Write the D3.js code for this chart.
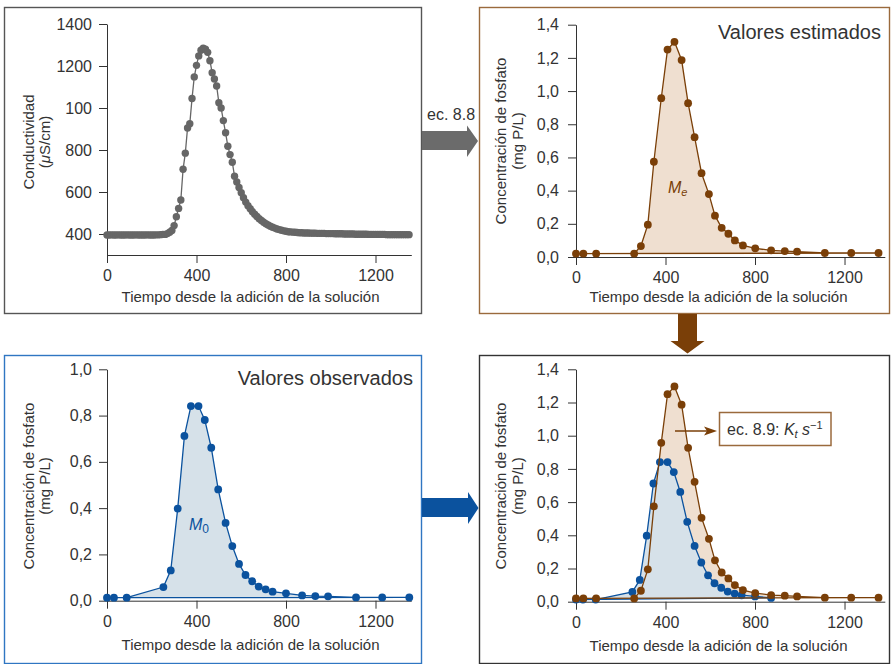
<!DOCTYPE html>
<html>
<head>
<meta charset="utf-8">
<script src="https://cdn.jsdelivr.net/npm/d3@7"></script>
<style>
  body { margin: 0; background: #fff; }
  text { font-family: "Liberation Sans", Arial, sans-serif; fill: #333; }
</style>
</head>
<body>
<script>
// ---- data ----
var condTime = [
  0,10,20,30,40,50,60,70,80,90,
  100,110,120,130,140,150,160,170,180,190,
  200,210,220,230,240,250,260,270,280,290,
  300,310,320,330,340,350,360,370,380,390,
  400,410,420,430,440,450,460,470,480,490,
  500,510,520,530,540,550,560,570,580,590,
  600,610,620,630,640,650,660,670,680,690,
  700,710,720,730,740,750,760,770,780,790,
  800,810,820,830,840,850,860,870,880,890,
  900,910,920,930,940,950,960,970,980,990,
  1000,1010,1020,1030,1040,1050,1060,1070,1080,1090,
  1100,1110,1120,1130,1140,1150,1160,1170,1180,1190,
  1200,1210,1220,1230,1240,1250,1260,1270,1280,1290,
  1300,1310,1320,1330,1340,1350];
var condValue = [
  395,395,396,395,395,396,395,395,395,396,
  395,395,395,396,395,395,395,395,396,395,
  395,395,396,396,397,398,398,402,408,417,
  440,482,522,562,708,785,905,925,1045,1148,
  1203,1248,1275,1285,1280,1265,1225,1168,1138,1105,
  1025,1000,940,882,818,778,742,675,648,622,
  597,573,552,535,520,506,494,483,473,464,
  456,449,443,437,432,428,424,421,418,415,
  413,411,410,409,408,407,406,406,405,405,
  405,404,404,404,403,403,403,403,402,402,
  402,402,401,401,401,401,400,400,400,400,
  400,399,399,399,399,399,399,398,398,398,
  398,398,398,398,398,397,397,397,397,397,
  397,397,397,397,397,397];
var condTicks = [400, 600, 800, 1000, 1200, 1400];
var condTickLabels = ["400", "600", "800", "100", "1200", "1400"];

var estTime  = [0,33,90,260,290,321,348,381,409,440,472,501,530,561,594,621,651,681,710,746,801,872,933,988,1112,1230,1352];
var estValue = [0.02,0.02,0.02,0.02,0.066,0.195,0.574,0.957,1.25,1.297,1.187,0.927,0.722,0.505,0.379,0.249,0.176,0.14,0.10,0.07,0.052,0.04,0.036,0.032,0.024,0.024,0.024];

var obsTime  = [0,31,88,252,285,316,346,375,409,437,466,497,530,560,590,619,649,678,709,740,800,872,931,988,1113,1230,1351];
var obsValue = [0.013,0.013,0.013,0.059,0.131,0.398,0.712,0.841,0.841,0.781,0.661,0.481,0.336,0.236,0.159,0.111,0.084,0.061,0.049,0.039,0.032,0.023,0.020,0.019,0.014,0.014,0.014];

var timeTicks = [0, 400, 800, 1200];
var phosTicks14 = [0, 0.2, 0.4, 0.6, 0.8, 1.0, 1.2, 1.4];
var phosTicks10 = [0, 0.2, 0.4, 0.6, 0.8, 1.0];
var xTitle = "Tiempo desde la adición de la solución";
var phosTitle = ["Concentración de fosfato", "(mg P/L)"];

var brown = "#7a3f08", brownFill = "#efdfd0", brownFrame = "#9a6a3c";
var blue = "#0b529e", blueFill = "#d6e1e9", blueFrame = "#2f76c2";

var comma = d3.formatLocale({decimal: ",", thousands: ".", grouping: [3], currency: ["", ""]}).format(".1f");

var svg = d3.select("body").append("svg")
    .attr("width", 891)
    .attr("height", 664);

// one framed panel with its axes
function panel(p) {
  var x = d3.scaleLinear().domain(p.xDomain).range([p.left, p.right]);
  var y = d3.scaleLinear().domain(p.yDomain).range([p.bottom, p.top]);

  svg.append("rect")
      .attr("x", p.box[0] + 0.5).attr("y", p.box[1] + 0.5)
      .attr("width", p.box[2]).attr("height", p.box[3])
      .attr("fill", "none").attr("stroke", p.frame).attr("stroke-width", 1.4);

  var gx = svg.append("g")
      .attr("transform", "translate(0," + p.bottom + ")")
      .call(d3.axisBottom(x).tickValues(timeTicks).tickFormat(d3.format("d"))
            .tickSize(8).tickSizeOuter(0).tickPadding(7));
  var gy = svg.append("g")
      .attr("transform", "translate(" + p.left + ",0)")
      .call(d3.axisLeft(y).tickValues(p.yTicks).tickFormat(p.yFormat)
            .tickSize(8).tickSizeOuter(0).tickPadding(p.yPad));
  [gx, gy].forEach(function(g) {
    g.attr("font-size", 16).attr("font-family", null).style("color", "#333");
  });

  svg.append("text")
      .attr("x", p.xTitleX).attr("y", p.xTitleY)
      .attr("text-anchor", "middle").style("font-size", "15px")
      .text(xTitle);

  p.yTitle.forEach(function(s, i) {
    var t = svg.append("text")
        .attr("transform", "translate(" + p.yTitleX[i] + "," + p.yTitleY + ") rotate(-90)")
        .attr("text-anchor", "middle").style("font-size", "15px");
    if (s === "(μS/cm)") {
      t.append("tspan").text("(");
      t.append("tspan").style("font-style", "italic").text("μ");
      t.append("tspan").text("S/cm)");
    } else {
      t.text(s);
    }
  });
  return {x: x, y: y};
}

function points(ax, t, v) {
  return t.map(function(d, i) { return [ax.x(d), ax.y(v[i])]; });
}
function fillArea(pts, fill) {
  svg.append("path").attr("d", d3.line()(pts) + "Z").attr("fill", fill).attr("stroke", "none");
}
function strokeDots(pts, col, r, closed) {
  svg.append("path").attr("d", d3.line()(pts) + (closed ? "Z" : ""))
      .attr("fill", "none").attr("stroke", col).attr("stroke-width", 1.3);
  svg.append("g").selectAll("circle")
      .data(pts)
    .enter().append("circle")
      .attr("cx", function(d) { return d[0]; })
      .attr("cy", function(d) { return d[1]; })
      .attr("r", r)
      .attr("fill", col);
}

// ---- panel 1: conductividad ----
var a1 = panel({
  box: [4, 7, 417, 306], frame: "#555",
  xDomain: [0, 1360], left: 107, right: 411.3,
  yDomain: [300, 1400], bottom: 255, top: 24,
  yTicks: condTicks, yFormat: function(d, i) { return condTickLabels[i]; }, yPad: 7,
  xTitleX: 250.5, xTitleY: 302,
  yTitle: ["Conductividad", "(μS/cm)"], yTitleX: [34, 50], yTitleY: 142
});
strokeDots(points(a1, condTime, condValue), "#666", 3.7, false);

// ---- panel 2: valores estimados ----
var a2 = panel({
  box: [479, 7, 410, 306], frame: brownFrame,
  xDomain: [0, 1380], left: 576, right: 884.8,
  yDomain: [0, 1.4], bottom: 257, top: 24.7,
  yTicks: phosTicks14, yFormat: comma, yPad: 9,
  xTitleX: 718.5, xTitleY: 302,
  yTitle: phosTitle, yTitleX: [506, 523], yTitleY: 141
});
var est2 = points(a2, estTime, estValue);
fillArea(est2, brownFill);
strokeDots(est2, brown, 3.9, true);
svg.append("text").attr("x", 881).attr("y", 39).attr("text-anchor", "end")
    .style("font-size", "20px").text("Valores estimados");
var me = svg.append("text").attr("x", 668).attr("y", 193)
    .style("font-size", "16px").style("font-style", "italic").style("fill", brown);
me.append("tspan").text("M");
me.append("tspan").attr("dy", 3).style("font-size", "11px").text("e");

// ---- panel 3: valores observados ----
var a3 = panel({
  box: [4, 355, 417, 308], frame: blueFrame,
  xDomain: [0, 1360], left: 107, right: 411.3,
  yDomain: [0, 1.0], bottom: 600.7, top: 369.3,
  yTicks: phosTicks10, yFormat: comma, yPad: 7,
  xTitleX: 250.5, xTitleY: 650,
  yTitle: phosTitle, yTitleX: [34, 50], yTitleY: 486
});
var obs3 = points(a3, obsTime, obsValue);
fillArea(obs3, blueFill);
strokeDots(obs3, blue, 3.9, true);
svg.append("text").attr("x", 413).attr("y", 385).attr("text-anchor", "end")
    .style("font-size", "20px").text("Valores observados");
var m0 = svg.append("text").attr("x", 189).attr("y", 530)
    .style("font-size", "16px").style("fill", blue);
m0.append("tspan").style("font-style", "italic").text("M");
m0.append("tspan").attr("dy", 3).style("font-size", "12px").text("0");

// ---- panel 4: ambos ----
var a4 = panel({
  box: [479, 355, 410, 308], frame: "#333",
  xDomain: [0, 1380], left: 576, right: 884.8,
  yDomain: [0, 1.4], bottom: 601.7, top: 369.3,
  yTicks: phosTicks14, yFormat: comma, yPad: 9,
  xTitleX: 718.5, xTitleY: 651,
  yTitle: phosTitle, yTitleX: [506, 523], yTitleY: 486
});
var est4 = points(a4, estTime, estValue);
var obs4 = points(a4, obsTime.slice(0, 22), obsValue.slice(0, 22));
fillArea(est4, brownFill);
fillArea(obs4, blueFill);
strokeDots(obs4, blue, 3.9, true);
strokeDots(est4, brown, 3.9, true);

// annotation ec. 8.9
svg.append("line").attr("x1", 675).attr("y1", 431).attr("x2", 708).attr("y2", 431)
    .attr("stroke", brown).attr("stroke-width", 1.4);
svg.append("path").attr("d", "M704,426.5L717,431L704,435.5L707,431Z").attr("fill", brown);
svg.append("rect").attr("x", 719.5).attr("y", 412.5).attr("width", 111.5).attr("height", 33)
    .attr("fill", "#fff").attr("stroke", brownFrame).attr("stroke-width", 1.5);
var ec9 = svg.append("text").attr("x", 727).attr("y", 435).style("font-size", "16px");
ec9.append("tspan").text("ec. 8.9: ");
ec9.append("tspan").style("font-style", "italic").text("K");
ec9.append("tspan").attr("dy", 3).style("font-size", "11px").style("font-style", "italic").text("t");
ec9.append("tspan").attr("dy", -3).text(" ");
ec9.append("tspan").style("font-style", "italic").text("s");
ec9.append("tspan").attr("dy", -6).style("font-size", "11px").text("−1");

// ---- connecting arrows ----
svg.append("text").attr("x", 427).attr("y", 120).style("font-size", "16px").text("ec. 8.8");
svg.append("path")
    .attr("d", "M422,131L467,131L467,125.5L478,141L467,157L467,150L422,150Z")
    .attr("fill", "#6b6b6b");
svg.append("path")
    .attr("d", "M422,498L468,498L468,492L478.5,508L468,524L468,517L422,517Z")
    .attr("fill", "#0b529e");
svg.append("path")
    .attr("d", "M678,314L697,314L697,341L704.5,341L687.5,353.5L670.5,341L678,341Z")
    .attr("fill", "#7a3f08");
</script>
</body>
</html>
